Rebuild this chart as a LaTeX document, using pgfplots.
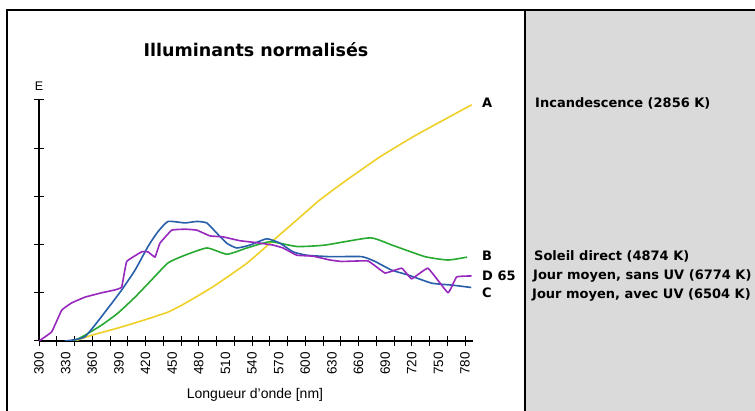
\documentclass[border=0pt]{standalone}
\usepackage{pgfplots}
\pgfplotsset{compat=1.18}
\usepackage{fontspec}
\setmainfont{Liberation Sans}
\newfontfamily\chic{DejaVu Sans}
\definecolor{cA}{RGB}{238,208,40}
\definecolor{cB}{RGB}{40,170,50}
\definecolor{cC}{RGB}{40,95,170}
\definecolor{cD}{RGB}{150,40,190}
\definecolor{panel}{RGB}{218,218,218}
\begin{document}
\begin{tikzpicture}[x=1pt,y=1pt]
\path[use as bounding box] (0,0) rectangle (755,411);
\fill[white] (0,0) rectangle (755,411);
\fill[panel] (525,0) rectangle (755,401);
\draw[line width=1.3pt] (7,0) -- (7,401) -- (755,401);
\draw[line width=1.3pt] (525,0) -- (525,401);
\begin{axis}[at={(39pt,70pt)}, anchor=south west, scale only axis,
  width=434pt, height=241pt,
  xmin=300, xmax=789, ymin=0, ymax=5,
  axis x line=bottom, axis y line=left,
  axis line style={-, line width=1.2pt, black},
  every tick/.style={black, line width=1pt},
  major tick length=10pt, tick align=center,
  xtick={300,320,...,780}, xticklabels={},
  ytick={0,1,2,3,4,5}, yticklabels={},
  extra x ticks={300,330,...,780},
  extra x tick labels={300,330,360,390,420,450,480,510,540,570,600,630,660,690,720,750,780},
  extra x tick style={major tick length=0pt},
  xticklabel style={rotate=90, anchor=east, font=\fontsize{13.5}{14}\selectfont, inner sep=0pt},
  xticklabel shift={11pt},
  clip=true,
  every axis plot/.append style={line width=1.6pt, line join=round, smooth, tension=0.3}]
\addplot[cA] coordinates {(340.6,0) (359.4,0.12) (389,0.27) (419.4,0.44) (445.4,0.60) (464.5,0.78) (496.4,1.13) (534,1.61) (560.3,2.03) (590.4,2.51) (616.6,2.93) (646.7,3.34) (684.2,3.82) (721.8,4.24) (759.4,4.62) (787.5,4.90)};
\addplot[cB] coordinates {(339.4,0) (351.8,0.12) (370.6,0.33) (389,0.58) (408.2,0.91) (427,1.27) (445.4,1.62) (464.5,1.78) (489.3,1.93) (511.8,1.80) (534.4,1.93) (560.3,2.06) (590.7,1.96) (622.3,1.99) (673,2.14) (697.7,1.99) (734.9,1.75) (760.8,1.68) (782.3,1.74)};
\addplot[cC] coordinates {(329.3,0) (351.8,0.09) (377.7,0.68) (393.2,1.06) (408.2,1.47) (422.8,1.96) (434.1,2.27) (445.4,2.48) (464.5,2.45) (477.7,2.48) (489,2.45) (500.2,2.24) (511.5,2.03) (522.8,1.93) (537.7,1.99) (556.6,2.12) (571.5,2.03) (586.2,1.85) (601.6,1.78) (627.9,1.75) (663.6,1.75) (678.6,1.65) (697.4,1.47) (715.8,1.37) (742.5,1.20) (765,1.16) (787,1.11)};
\addplot[cD, tension=0.15] coordinates {(300,0) (314.3,0.19) (325.6,0.64) (336.8,0.79) (351.8,0.91) (370.6,1.0) (385.6,1.06) (393.2,1.12) (398.8,1.65) (415.7,1.85) (422.8,1.85) (430.7,1.74) (436.3,2.03) (449.5,2.30) (464.5,2.32) (477.7,2.30) (492.7,2.18) (507.3,2.16) (526.5,2.08) (545.3,2.04) (563.7,1.99) (574.9,1.93) (590.4,1.78) (608.7,1.76) (627.9,1.68) (641.1,1.65) (670.7,1.66) (689.9,1.41) (708.7,1.51) (719.9,1.29) (738.3,1.51) (760.8,1.00) (770.6,1.33) (787.5,1.35)};
\end{axis}
\node[font=\chic\bfseries\fontsize{17.5}{19}\selectfont] at (256,361) {Illuminants normalisés};
\node[font=\fontsize{12.5}{13}\selectfont] at (39,325) {E};
\node[font=\fontsize{14}{15}\selectfont] at (255,16) {Longueur d'onde [nm]};
\begin{scope}[every node/.style={font=\chic\bfseries\fontsize{13}{14}\selectfont, anchor=west, inner sep=0pt}]
\node at (482,308) {A};
\node at (482,155) {B};
\node at (482,135) {D 65};
\node at (482,118) {C};
\node at (535,308) {Incandescence (2856 K)};
\node at (534,155) {Soleil direct (4874 K)};
\node at (533,135) {Jour moyen, sans UV (6774 K)};
\node at (532,116) {Jour moyen, avec UV (6504 K)};
\end{scope}
\end{tikzpicture}
\end{document}
